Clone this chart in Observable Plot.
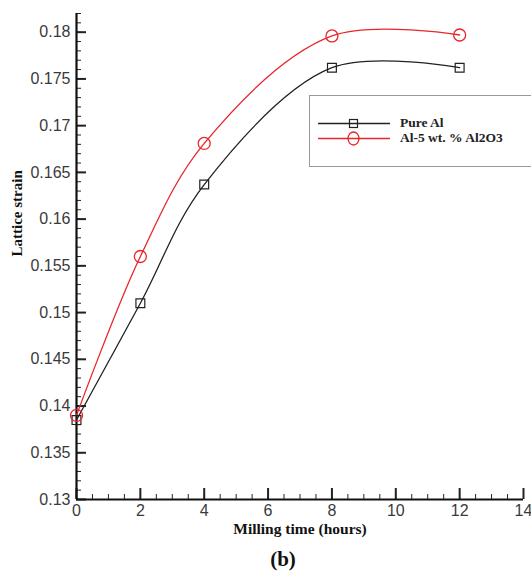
<!DOCTYPE html>
<html>
<head>
<meta charset="utf-8">
<script src="https://cdn.jsdelivr.net/npm/d3@7"></script>
<script src="https://cdn.jsdelivr.net/npm/@observablehq/plot@0.6"></script>
<style>
  html, body { margin: 0; padding: 0; background: #fff; }
  #wrap { position: relative; width: 531px; height: 577px; overflow: hidden; }
  #legend {
    position: absolute; left: 309px; top: 95px; width: 240px; height: 72px;
    border: 1.5px solid #999; box-sizing: border-box; background: #fff;
    font-family: "Liberation Serif", "Times New Roman", serif; font-weight: bold; font-size: 13.5px; line-height: 14px; color: #222;
  }
  #legend .row { position: absolute; left: 8px; height: 14px; display: flex; align-items: center; }
  #legend svg { display: block; }
  #legend span { margin-left: 10px; }
</style>
</head>
<body>
<div id="wrap"></div>
<script>
const milling = [0, 2, 4, 8, 12];
const pureAl = [0.1385, 0.1510, 0.1637, 0.1762, 0.1762];
const alAl2O3 = [0.1390, 0.1560, 0.1681, 0.1796, 0.1797];
const seriesNames = ["Pure Al", "Al-5 wt. % Al2O3"];
const seriesColors = ["#222222", "#e8262c"];
const xDomain = [0, 14];
const yDomain = [0.13, 0.182];
const xTicks = [0, 2, 4, 6, 8, 10, 12, 14];
const yTicks = [0.13, 0.135, 0.14, 0.145, 0.15, 0.155, 0.16, 0.165, 0.17, 0.175, 0.18];
const xMinor = d3.range(0, 14.01, 0.5);
const yMinor = d3.range(0.13, 0.1821, 0.001);

const data = [];
milling.forEach((t, i) => {
  data.push({t, v: pureAl[i], s: seriesNames[0]});
  data.push({t, v: alAl2O3[i], s: seriesNames[1]});
});

const tickFont = {fontFamily: "'Liberation Sans', Arial, sans-serif", fontSize: 16, fill: "#3a3a3a"};
const serif = "'Liberation Serif', 'Times New Roman', serif";

const chart = Plot.plot({
  width: 531,
  height: 577,
  marginLeft: 76,
  marginRight: 8,
  marginTop: 13,
  marginBottom: 78,
  x: {domain: xDomain},
  y: {domain: yDomain},
  style: {background: "#fff", overflow: "visible"},
  marks: [
    Plot.axisX({ticks: xMinor, tickSize: -5, stroke: "#222", strokeWidth: 1, fill: "none", label: null}),
    Plot.axisX({ticks: xTicks, tickSize: -11, stroke: "#222", strokeWidth: 2, fill: "none", label: null}),
    Plot.axisX({ticks: xTicks, tickSize: 0, tickPadding: 5, tickFormat: d => String(d), label: null, ...tickFont}),
    Plot.axisY({ticks: yMinor, tickSize: -5, stroke: "#222", strokeWidth: 1, fill: "none", label: null}),
    Plot.axisY({ticks: yTicks, tickSize: -10, stroke: "#222", strokeWidth: 2, fill: "none", label: null}),
    Plot.axisY({ticks: yTicks, tickSize: 0, tickPadding: 6, tickFormat: d => String(+d.toFixed(3)), label: null, ...tickFont}),
    Plot.ruleX([xDomain[0]], {stroke: "#111", strokeWidth: 2.2}),
    Plot.ruleY([yDomain[0]], {stroke: "#111", strokeWidth: 2.2}),
    Plot.line(data, {x: "t", y: "v", z: "s", stroke: d => d.s === seriesNames[0] ? seriesColors[0] : seriesColors[1], strokeWidth: 1.3, curve: "catmull-rom"}),
    Plot.dot(data.filter(d => d.s === seriesNames[0]), {x: "t", y: "v", symbol: "square", r: 5, stroke: seriesColors[0], strokeWidth: 1.2, fill: "none"}),
    Plot.dot(data.filter(d => d.s === seriesNames[1]), {x: "t", y: "v", symbol: "circle", r: 6, stroke: seriesColors[1], strokeWidth: 1.3, fill: "none"}),
    Plot.text(["Lattice strain"], {frameAnchor: "left", rotate: -90, dx: -59, fontFamily: serif, fontWeight: "bold", fontSize: 15, fill: "#111"}),
    Plot.text(["Milling time (hours)"], {frameAnchor: "bottom", dy: 34, fontFamily: serif, fontWeight: "bold", fontSize: 15.5, fill: "#111"}),
    Plot.text(["(b)"], {frameAnchor: "bottom", dx: -17, dy: 66, fontFamily: serif, fontWeight: "bold", fontSize: 21, fill: "#111"})
  ]
});

const wrap = document.getElementById("wrap");
wrap.appendChild(chart);

const legend = document.createElement("div");
legend.id = "legend";
function sample(color, shape) {
  const marker = shape === "square"
    ? `<rect x="31.5" y="3.5" width="8" height="8" fill="none" stroke="${color}" stroke-width="1.2"/>`
    : `<ellipse cx="35.5" cy="7.5" rx="5.5" ry="6.5" fill="none" stroke="${color}" stroke-width="1.3"/>`;
  return `<svg width="72" height="15"><line x1="0" x2="72" y1="7.5" y2="7.5" stroke="${color}" stroke-width="1.3"/>${marker}</svg>`;
}
legend.innerHTML =
  `<div class="row" style="top:20px">${sample(seriesColors[0], "square")}<span>${seriesNames[0]}</span></div>` +
  `<div class="row" style="top:35px">${sample(seriesColors[1], "circle")}<span>${seriesNames[1]}</span></div>`;
wrap.appendChild(legend);
</script>
</body>
</html>
